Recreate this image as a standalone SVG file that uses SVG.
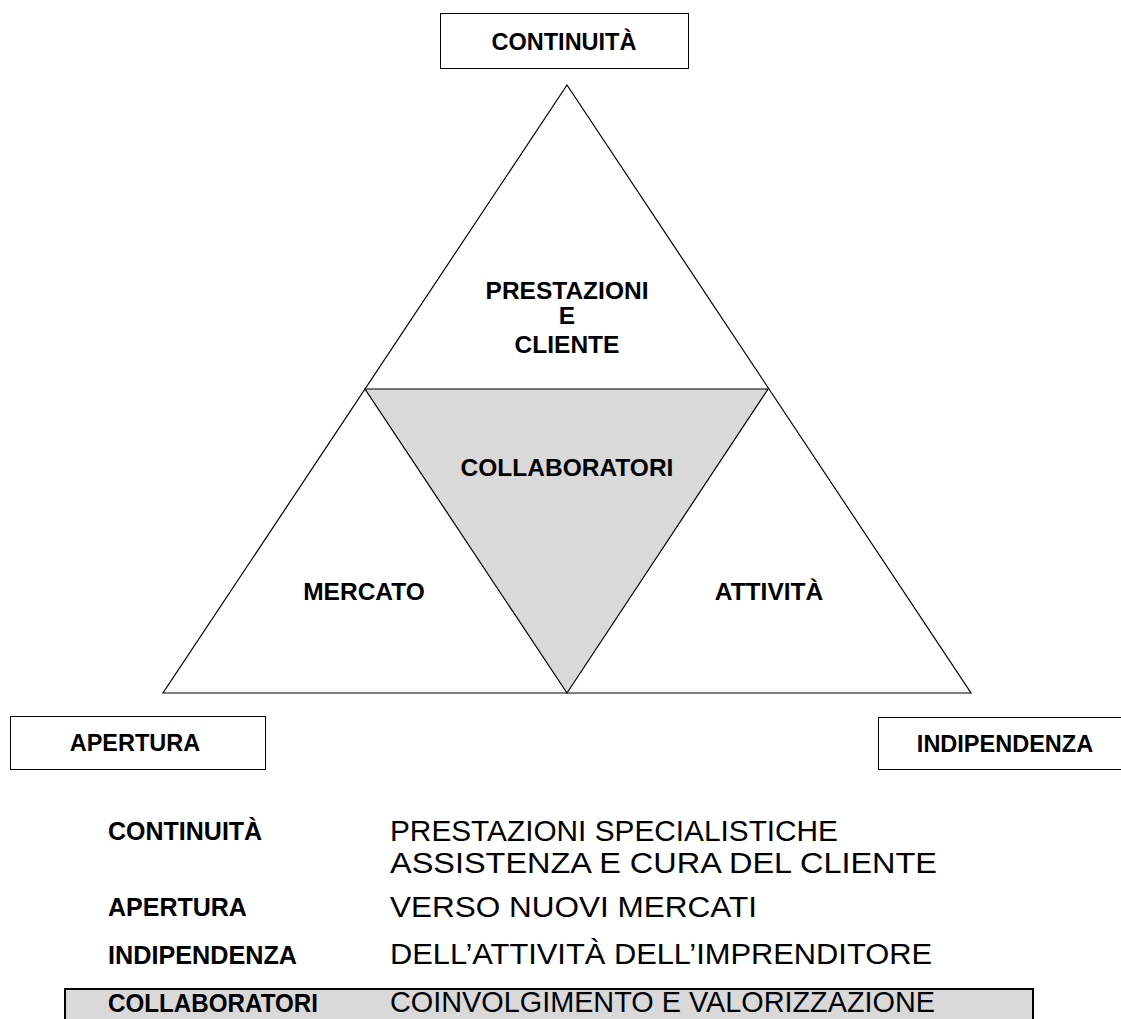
<svg xmlns="http://www.w3.org/2000/svg" width="1121" height="1019" viewBox="0 0 1121 1019">
<style>
.b{font-family:"Liberation Sans",Arial,sans-serif;font-weight:bold;fill:#000}
.r{font-family:"Liberation Sans",Arial,sans-serif;fill:#000;font-size:29px}
.rc{font-size:29px}
.t{font-size:24.5px}
.bx{font-size:23.5px}
.lg{font-size:25px}
.lc{font-size:26px}
.box{fill:#fff;stroke:#000;stroke-width:1}
.ln{fill:none;stroke:#000;stroke-width:1.2}
</style>
<rect width="1121" height="1019" fill="#fff"/>
<g id="connectors">
<polygon class="ln" points="567,85 163,693 971,693"/>
</g>
<g id="collaboratori">
<polygon points="365,389 768,389 567,693" fill="#d9d9d9" stroke="#000" stroke-width="1.2"/>
<text class="b t" x="567" y="476" text-anchor="middle">COLLABORATORI</text>
</g>
<g id="prestazioni">
<text class="b t" x="567" y="299" text-anchor="middle">PRESTAZIONI</text>
<text class="b t" x="567" y="324" text-anchor="middle">E</text>
<text class="b t" x="567" y="353" text-anchor="middle">CLIENTE</text>
</g>
<g id="mercato"><text class="b t" x="364" y="600" text-anchor="middle">MERCATO</text></g>
<g id="attivita"><text class="b t" x="769" y="600" text-anchor="middle">ATTIVITÀ</text></g>
<g id="continuita"><rect class="box" x="440.5" y="13.5" width="248" height="55"/><text class="b bx" x="564" y="50" text-anchor="middle">CONTINUITÀ</text></g>
<g id="apertura"><rect class="box" x="10.5" y="716.5" width="255" height="53"/><text class="b bx" x="135" y="751" text-anchor="middle">APERTURA</text></g>
<g id="indipendenza"><rect class="box" x="878.5" y="717.5" width="260" height="52"/><text class="b bx" x="1005" y="752" text-anchor="middle">INDIPENDENZA</text></g>
<g id="legend">
<rect x="65" y="989" width="968" height="40" fill="#d9d9d9" stroke="#000" stroke-width="2"/>
<text class="b lg" x="108" y="840">CONTINUITÀ</text>
<text class="r" x="390" y="841" textLength="448" lengthAdjust="spacingAndGlyphs">PRESTAZIONI SPECIALISTICHE</text>
<text class="r" x="390" y="873" textLength="547" lengthAdjust="spacingAndGlyphs">ASSISTENZA E CURA DEL CLIENTE</text>
<text class="b lg" x="108" y="916">APERTURA</text>
<text class="r" x="390" y="917" textLength="367" lengthAdjust="spacingAndGlyphs">VERSO NUOVI MERCATI</text>
<text class="b lg lc" x="108" y="964" textLength="189" lengthAdjust="spacingAndGlyphs">INDIPENDENZA</text>
<text class="r rc" x="390" y="964" textLength="542" lengthAdjust="spacingAndGlyphs">DELL’ATTIVITÀ DELL’IMPRENDITORE</text>
<text class="b lg lc" x="108" y="1012" textLength="210" lengthAdjust="spacingAndGlyphs">COLLABORATORI</text>
<text class="r rc" x="390" y="1012" textLength="545" lengthAdjust="spacingAndGlyphs">COINVOLGIMENTO E VALORIZZAZIONE</text>
</g>
</svg>
